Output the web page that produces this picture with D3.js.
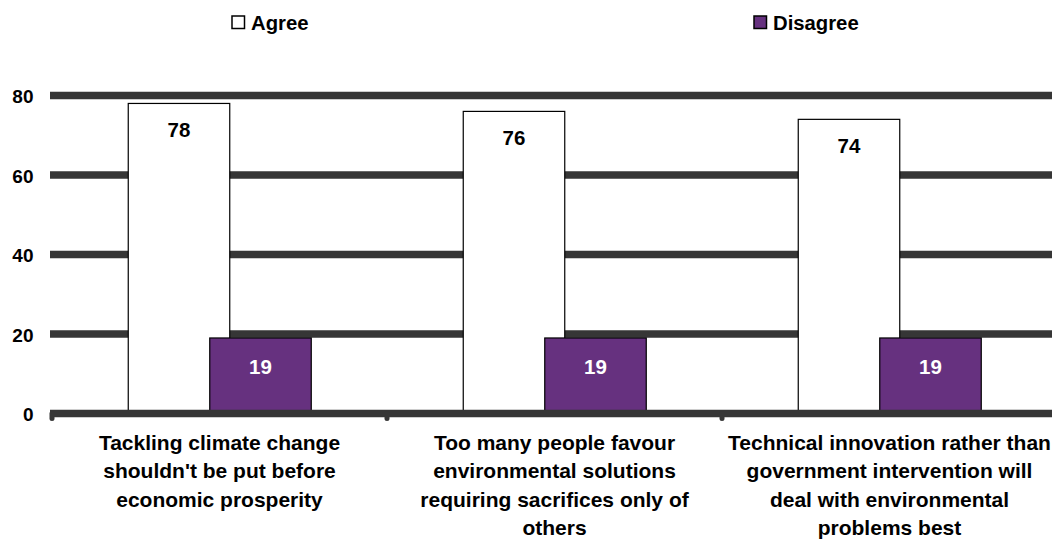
<!DOCTYPE html>
<html>
<head>
<meta charset="utf-8">
<script src="https://cdn.jsdelivr.net/npm/d3@7"></script>
<style>
  html, body { margin: 0; padding: 0; background: #fff; }
  svg { display: block; font-family: "Liberation Sans", Arial, sans-serif; font-weight: bold; }
</style>
</head>
<body>
<svg id="chart" width="1052" height="539"></svg>
<script>
// Survey statements (wrapped into display lines)
const categories = [
  ["Tackling climate change", "shouldn't be put before", "economic prosperity"],
  ["Too many people favour", "environmental solutions", "requiring sacrifices only of", "others"],
  ["Technical innovation rather than", "government intervention will", "deal with environmental", "problems best"]
];
const seriesNames = ["Agree", "Disagree"];
const agreeValues = [78, 76, 74];
const disagreeValues = [19, 19, 19];
const yTicks = [0, 20, 40, 60, 80];

const seriesValues = [agreeValues, disagreeValues];
const fills = { Agree: "#ffffff", Disagree: "#66317f" };
const labelColors = { Agree: "#000000", Disagree: "#ffffff" };
const lineColor = "#363636";

const svg = d3.select("#chart");

const x0 = d3.scaleBand().domain(d3.range(categories.length)).range([52, 1057]);
const x1 = d3.scalePoint().domain(seriesNames).range([-40.5, 41]);
const barW = 101.5;
const y = d3.scaleLinear().domain([0, 80]).range([413.5, 95.5]);

// Horizontal gridlines (heavy rules)
svg.append("g").selectAll("line")
  .data(yTicks.filter(t => t > 0))
  .join("line")
  .attr("x1", 50).attr("x2", 1060)
  .attr("y1", d => y(d)).attr("y2", d => y(d))
  .attr("stroke", lineColor).attr("stroke-width", 7.5);

// Y axis labels
const yAxis = d3.axisLeft(y).tickValues(yTicks).tickSize(0).tickPadding(0).tickFormat(d3.format("d"));
const yg = svg.append("g").attr("transform", "translate(33.5,0)").call(yAxis);
yg.select(".domain").remove();
yg.selectAll("text")
  .attr("font-size", 19).attr("font-weight", "bold")
  .attr("font-family", "'Liberation Sans', Arial, sans-serif")
  .attr("fill", "#000").attr("dy", "0.38em");

// Bars
const data = [];
categories.forEach((c, i) => seriesNames.forEach((s, j) => data.push({ i, s, v: seriesValues[j][i] })));

const cx = d => x0(d.i) + x0.bandwidth() / 2 + x1(d.s);

svg.append("g").selectAll("rect")
  .data(data)
  .join("rect")
  .attr("x", d => cx(d) - barW / 2)
  .attr("width", barW)
  .attr("y", d => y(d.v))
  .attr("height", d => y(0) - y(d.v))
  .attr("fill", d => fills[d.s])
  .attr("stroke", "#000").attr("stroke-width", 1.2);

// Value labels inside bars
svg.append("g").selectAll("text")
  .data(data)
  .join("text")
  .attr("x", d => cx(d))
  .attr("y", d => y(d.v) + (d.s === "Agree" ? 34 : 36))
  .attr("text-anchor", "middle")
  .attr("font-size", 20.5)
  .attr("fill", d => labelColors[d.s])
  .text(d => d.v);

// Baseline with tick nubs
const base = svg.append("g");
base.append("line")
  .attr("x1", 50).attr("x2", 1060)
  .attr("y1", y(0)).attr("y2", y(0))
  .attr("stroke", lineColor).attr("stroke-width", 7.5);
const tickXs = d3.range(categories.length).map(i => x0(i));
base.selectAll("line.tick")
  .data(tickXs)
  .join("line").attr("class", "tick")
  .attr("x1", d => d).attr("x2", d => d)
  .attr("y1", y(0)).attr("y2", y(0) + 5)
  .attr("stroke", lineColor).attr("stroke-width", 5).attr("stroke-linecap", "round");

// Category labels
const xl = svg.append("g").selectAll("text")
  .data(categories)
  .join("text")
  .attr("text-anchor", "middle")
  .attr("font-size", 21)
  .attr("fill", "#000");
xl.each(function (lines, i) {
  d3.select(this).selectAll("tspan")
    .data(lines)
    .join("tspan")
    .attr("x", x0(i) + x0.bandwidth() / 2)
    .attr("y", (d, k) => 450 + k * 28.4)
    .text(d => d);
});

// Legend
const legendX = [232, 754];
const lg = svg.append("g").selectAll("g")
  .data(seriesNames)
  .join("g")
  .attr("transform", (d, i) => `translate(${legendX[i]},16)`);
lg.append("rect")
  .attr("width", 12.5).attr("height", 12.5)
  .attr("fill", d => fills[d]).attr("stroke", "#000").attr("stroke-width", 1.5);
lg.append("text")
  .attr("x", 19).attr("y", 13.5)
  .attr("font-size", 20.3).attr("fill", "#000")
  .text(d => d);
</script>
</body>
</html>
